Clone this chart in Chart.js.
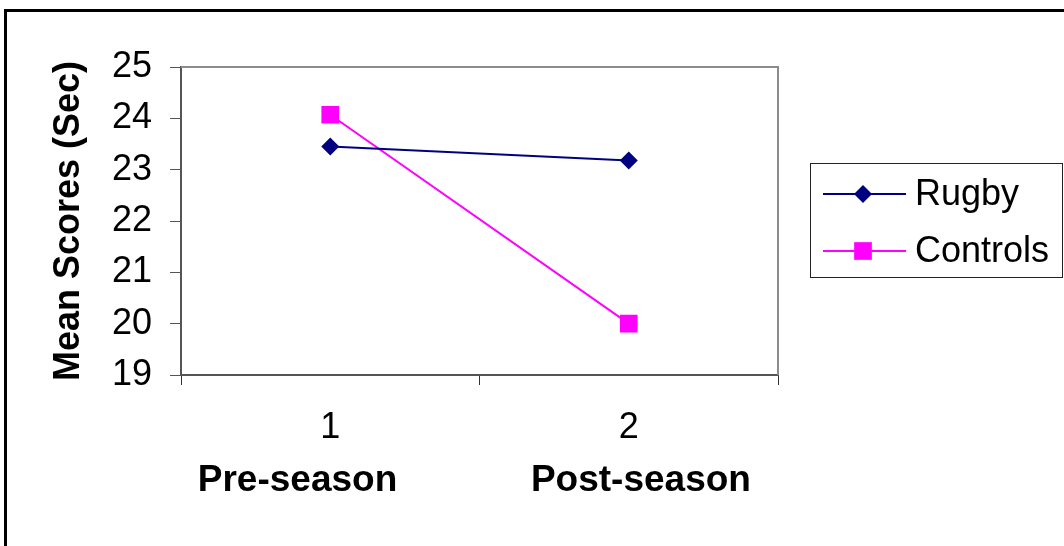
<!DOCTYPE html>
<html>
<head>
<meta charset="utf-8">
<script src="https://cdn.jsdelivr.net/npm/chart.js@4/dist/chart.umd.min.js"></script>
<style>
  html, body { margin: 0; padding: 0; background: #fff; overflow: hidden; }
  #wrap { position: relative; width: 1064px; height: 546px; }
  #frame { position: absolute; left: 4px; top: 9px; width: 1100px; height: 600px;
           border-left: 3px solid #000; border-top: 3px solid #000; pointer-events: none; }
  canvas { position: absolute; left: 0; top: 0; }
</style>
</head>
<body>
<div id="wrap">
  <canvas id="chart" width="1064" height="546"></canvas>
  <div id="frame"></div>
</div>
<script>
// values
const timepoints = ['1', '2'];
const phaseLabels = ['Pre-season', 'Post-season'];
const rugbyScores = [23.45, 23.18];
const controlScores = [24.07, 20.0];
const yTicks = { min: 19, max: 25, step: 1 };

Chart.defaults.font.family = '"Liberation Sans", Arial, sans-serif';
Chart.defaults.color = '#000';

const FONT = 36;

// grey box round the plot area (top and right sides), like the spreadsheet chart
const plotBorder = {
  id: 'plotBorder',
  beforeDatasetsDraw(chart) {
    const { ctx, chartArea: a } = chart;
    ctx.save();
    ctx.strokeStyle = '#8c8c8c';
    ctx.lineWidth = 2;
    ctx.beginPath();
    ctx.moveTo(a.left, a.top);
    ctx.lineTo(a.right, a.top);
    ctx.lineTo(a.right, a.bottom);
    ctx.stroke();
    ctx.restore();
  }
};

// boxed legend on the right
const boxLegend = {
  id: 'boxLegend',
  afterDraw(chart) {
    const ctx = chart.ctx;
    const box = { x: 810, y: 163, w: 252, h: 114 };
    ctx.save();
    ctx.strokeStyle = '#222';
    ctx.lineWidth = 1;
    ctx.strokeRect(box.x + 0.5, box.y + 0.5, box.w, box.h);
    ctx.font = FONT + 'px "Liberation Sans", Arial, sans-serif';
    ctx.textBaseline = 'middle';
    chart.data.datasets.forEach((ds, i) => {
      const y = 194 + i * 57;
      ctx.strokeStyle = ds.borderColor;
      ctx.lineWidth = 2;
      ctx.beginPath();
      ctx.moveTo(823, y);
      ctx.lineTo(906, y);
      ctx.stroke();
      ctx.fillStyle = ds.backgroundColor;
      const cx = 863;
      if (ds.pointStyle === 'rectRot') {
        const r = ds.pointRadius;
        ctx.beginPath();
        ctx.moveTo(cx, y - r);
        ctx.lineTo(cx + r, y);
        ctx.lineTo(cx, y + r);
        ctx.lineTo(cx - r, y);
        ctx.closePath();
        ctx.fill();
      } else {
        const h = ds.pointRadius * Math.SQRT1_2;
        ctx.fillRect(cx - h, y - h, 2 * h, 2 * h);
      }
      ctx.fillStyle = '#000';
      ctx.fillText(ds.label, 915, y + 1);
    });
    ctx.restore();
  }
};

new Chart(document.getElementById('chart'), {
  type: 'line',
  data: {
    labels: timepoints,
    datasets: [
      {
        label: 'Rugby',
        data: rugbyScores,
        borderColor: '#000080',
        backgroundColor: '#000080',
        borderWidth: 2,
        pointStyle: 'rectRot',
        pointRadius: 9,
        pointBorderWidth: 0,
        pointBackgroundColor: '#000080'
      },
      {
        label: 'Controls',
        data: controlScores,
        borderColor: '#ff00ff',
        backgroundColor: '#ff00ff',
        borderWidth: 2,
        pointStyle: 'rect',
        pointRadius: 12.5,
        pointBorderWidth: 0,
        pointBackgroundColor: '#ff00ff'
      }
    ]
  },
  options: {
    responsive: false,
    animation: false,
    layout: { padding: { top: 67, right: 286, left: 0, bottom: 0 } },
    plugins: {
      legend: { display: false },
      tooltip: { enabled: false }
    },
    scales: {
      x: {
        type: 'category',
        offset: true,
        grid: { offset: true, drawOnChartArea: false, tickLength: 10, color: '#333', tickWidth: 1 },
        border: { color: '#555', width: 2 },
        ticks: { font: { size: FONT }, padding: 21, color: '#000' },
        title: {
          display: true,
          // Excel-style axis title: both phase names on one line, spaced under each point
          text: phaseLabels.join(' '.repeat(13)) + ' ',
          font: { size: 37, weight: 'bold' },
          padding: { top: 0, bottom: 43 },
          color: '#000'
        },
        afterFit(scale) { scale.height = 171; }
      },
      y: {
        min: yTicks.min,
        max: yTicks.max,
        grid: { drawOnChartArea: false, tickLength: 11, color: '#555' },
        border: { color: '#555', width: 2 },
        ticks: { stepSize: yTicks.step, font: { size: FONT }, padding: 18, color: '#000' },
        title: {
          display: true,
          text: 'Mean Scores (Sec)',
          font: { size: FONT, weight: 'bold' },
          padding: { top: 47, bottom: 0 },
          color: '#000'
        },
        afterFit(scale) { scale.width = 181; }
      }
    }
  },
  plugins: [plotBorder, boxLegend]
});
</script>
</body>
</html>
